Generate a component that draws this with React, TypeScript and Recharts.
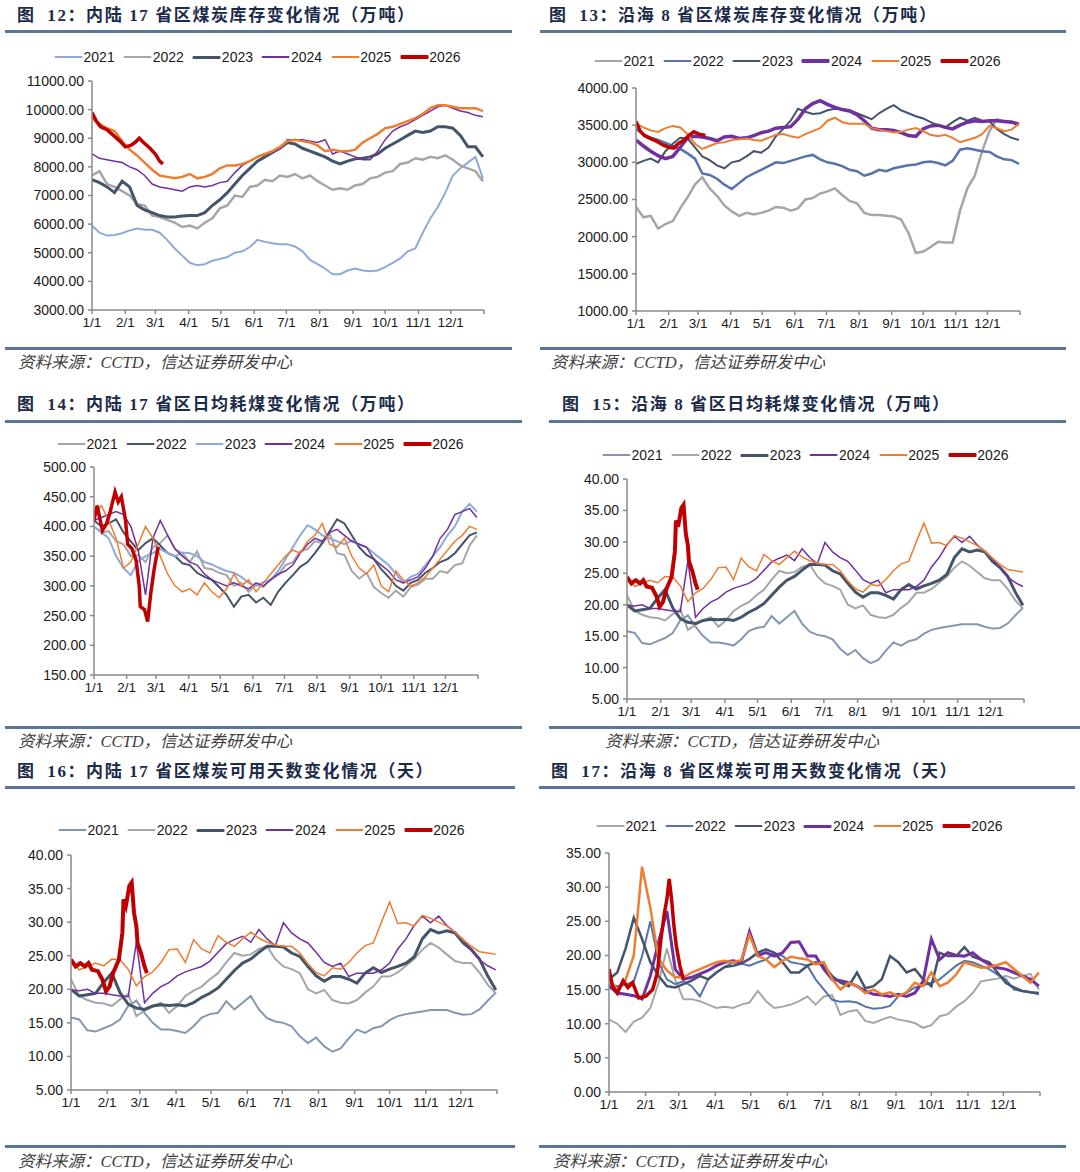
import React from "react";
import { LineChart, Line, XAxis, YAxis } from "recharts";

// x positions are day-of-year; weekly samples
const WEEKS = [0, 7, 14, 21, 28, 35, 42, 49, 56, 63, 70, 77, 84, 91, 98, 105, 112, 119, 126, 133, 140, 147, 154, 161, 168, 175, 182, 189, 196, 203, 210, 217, 224, 231, 238, 245, 252, 259, 266, 273, 280, 287, 294, 301, 308, 315, 322, 329, 336, 343, 350, 357, 364];
const MONTH_TICKS = [0, 31, 59, 90, 120, 151, 181, 212, 243, 273, 304, 334, 365];
const MONTH_LABELS = ["1/1", "2/1", "3/1", "4/1", "5/1", "6/1", "7/1", "8/1", "9/1", "10/1", "11/1", "12/1", ""];
const YEARS = ["2021", "2022", "2023", "2024", "2025", "2026"];

// 图12 内陆17省区煤炭库存
const INV_IN_2021 = [5950, 5700, 5600, 5620, 5680, 5780, 5850, 5800, 5800, 5700, 5450, 5150, 4900, 4650, 4560, 4600, 4720, 4780, 4850, 5000, 5050, 5200, 5450, 5380, 5330, 5300, 5300, 5220, 5050, 4750, 4600, 4450, 4250, 4250, 4380, 4450, 4380, 4350, 4380, 4500, 4650, 4800, 5050, 5150, 5700, 6200, 6600, 7100, 7700, 7950, 8150, 8350, 7600];
const INV_IN_2022 = [7700, 7850, 7400, 7300, 7150, 7000, 6700, 6650, 6300, 6250, 6150, 6050, 5900, 5950, 5850, 6050, 6200, 6550, 6650, 7000, 6950, 7300, 7350, 7550, 7500, 7700, 7650, 7750, 7600, 7700, 7500, 7350, 7200, 7250, 7200, 7350, 7400, 7600, 7650, 7800, 7850, 8100, 8150, 8300, 8250, 8350, 8300, 8400, 8250, 8050, 7950, 7850, 7500];
const INV_IN_2023 = [7550, 7450, 7300, 7100, 7500, 7300, 6650, 6500, 6400, 6300, 6250, 6250, 6280, 6300, 6300, 6400, 6650, 6850, 7100, 7400, 7700, 7950, 8200, 8350, 8500, 8650, 8850, 8800, 8650, 8550, 8450, 8350, 8200, 8100, 8200, 8280, 8300, 8350, 8450, 8650, 8800, 8950, 9100, 9250, 9200, 9250, 9400, 9400, 9350, 9100, 8700, 8700, 8350];
const INV_IN_2024 = [8450, 8300, 8250, 8200, 8150, 8000, 7900, 7700, 7400, 7300, 7250, 7200, 7150, 7300, 7350, 7300, 7350, 7450, 7500, 7800, 8050, 8200, 8350, 8450, 8500, 8650, 8950, 8950, 8950, 8900, 8850, 8950, 8450, 8550, 8450, 8350, 8250, 8250, 8550, 8950, 9250, 9400, 9500, 9650, 9800, 9950, 10100, 10150, 10050, 9950, 9900, 9800, 9750];
const INV_IN_2025 = [9700, 9500, 9350, 9250, 8900, 8600, 8400, 8150, 7900, 7700, 7650, 7600, 7650, 7750, 7600, 7650, 7750, 7950, 8050, 8050, 8100, 8200, 8350, 8450, 8550, 8700, 8900, 8950, 8900, 8850, 8750, 8550, 8600, 8550, 8550, 8600, 8850, 9000, 9150, 9350, 9400, 9500, 9600, 9700, 9850, 10050, 10150, 10150, 10100, 10050, 10050, 10050, 9950];
const INV_IN_2026_DAYS = [0, 4, 8, 14, 20, 26, 31, 36, 40, 44, 48, 54, 59, 63, 66];
const INV_IN_2026 = [9900, 9600, 9400, 9300, 9100, 8900, 8700, 8750, 8850, 9000, 8850, 8650, 8450, 8200, 8100];

// 图13 沿海8省区煤炭库存
const INV_CO_2021 = [2400, 2260, 2280, 2110, 2170, 2210, 2380, 2530, 2700, 2800, 2650, 2550, 2420, 2340, 2280, 2320, 2300, 2320, 2350, 2400, 2390, 2350, 2380, 2500, 2520, 2580, 2610, 2650, 2560, 2480, 2450, 2320, 2290, 2290, 2280, 2270, 2230, 2050, 1780, 1800, 1860, 1930, 1920, 1920, 2350, 2650, 2820, 3150, 3420, 3580, 3550, 3550, 3520];
const INV_CO_2022 = [3450, 3380, 3330, 3300, 3260, 3220, 3180, 3120, 3050, 2850, 2830, 2780, 2700, 2640, 2720, 2800, 2850, 2900, 2950, 3000, 2990, 3020, 3050, 3080, 3100, 3040, 3000, 2980, 2950, 2900, 2880, 2820, 2850, 2900, 2880, 2920, 2940, 2960, 2970, 3000, 3010, 2990, 2960, 3020, 3170, 3190, 3170, 3150, 3140, 3080, 3040, 3030, 2980];
const INV_CO_2023 = [2980, 3020, 3050, 3000, 3150, 3250, 3330, 3320, 3200, 3080, 3030, 2960, 2920, 3000, 3020, 3080, 3150, 3130, 3200, 3350, 3450, 3560, 3720, 3680, 3650, 3660, 3700, 3720, 3710, 3700, 3660, 3620, 3580, 3660, 3720, 3770, 3700, 3660, 3620, 3590, 3540, 3500, 3470, 3540, 3600, 3560, 3600, 3560, 3550, 3450, 3380, 3330, 3300];
const INV_CO_2024 = [3300, 3220, 3150, 3090, 3050, 3080, 3200, 3330, 3350, 3340, 3320, 3290, 3340, 3350, 3320, 3330, 3360, 3400, 3420, 3460, 3470, 3480, 3580, 3720, 3790, 3830, 3780, 3740, 3710, 3690, 3640, 3560, 3460, 3440, 3440, 3430, 3400, 3360, 3350, 3450, 3490, 3500, 3470, 3450, 3500, 3540, 3560, 3550, 3560, 3560, 3550, 3540, 3510];
const INV_CO_2025 = [3520, 3470, 3430, 3410, 3460, 3490, 3470, 3380, 3250, 3180, 3220, 3260, 3270, 3300, 3310, 3320, 3300, 3290, 3330, 3370, 3380, 3350, 3330, 3380, 3420, 3460, 3560, 3600, 3540, 3520, 3520, 3520, 3460, 3440, 3420, 3400, 3410, 3440, 3460, 3420, 3370, 3350, 3370, 3330, 3270, 3300, 3330, 3380, 3490, 3460, 3420, 3440, 3520];
const INV_CO_2026_DAYS = [0, 4, 8, 14, 20, 26, 32, 36, 40, 46, 50, 55, 60, 66];
const INV_CO_2026 = [3550, 3420, 3360, 3320, 3280, 3230, 3200, 3190, 3250, 3300, 3360, 3410, 3380, 3360];

// 图14 内陆17省区日均耗煤
const USE_IN_2021 = [400, 390, 392, 375, 370, 350, 352, 340, 365, 372, 385, 362, 355, 340, 358, 330, 328, 322, 318, 300, 305, 290, 302, 298, 312, 318, 335, 340, 358, 362, 375, 372, 388, 355, 352, 325, 312, 322, 298, 288, 280, 292, 282, 298, 302, 312, 312, 325, 322, 335, 338, 368, 385];
const USE_IN_2022 = [410, 400, 405, 412, 390, 375, 360, 372, 380, 368, 355, 350, 338, 335, 322, 315, 310, 298, 285, 265, 282, 285, 272, 280, 268, 290, 305, 318, 332, 340, 355, 372, 392, 412, 405, 385, 365, 352, 345, 328, 315, 300, 292, 305, 310, 322, 330, 340, 345, 355, 370, 385, 390];
const USE_IN_2023 = [400, 390, 380, 350, 330, 318, 342, 350, 355, 362, 355, 350, 356, 355, 350, 340, 336, 330, 325, 322, 315, 305, 300, 306, 310, 325, 345, 365, 385, 402, 395, 385, 380, 375, 370, 376, 370, 365, 355, 345, 335, 320, 305, 315, 320, 335, 350, 365, 385, 400, 425, 438, 425];
const USE_IN_2024 = [410, 415, 420, 425, 420, 400, 360, 285, 380, 410, 385, 362, 350, 340, 335, 320, 310, 305, 300, 305, 300, 295, 305, 300, 310, 320, 325, 335, 355, 370, 380, 375, 390, 395, 385, 375, 370, 365, 345, 335, 325, 310, 305, 310, 315, 330, 350, 380, 395, 420, 425, 430, 415];
const USE_IN_2025 = [420, 435, 410, 380, 330, 340, 370, 400, 380, 350, 320, 300, 290, 295, 285, 305, 290, 280, 295, 320, 300, 310, 290, 305, 320, 335, 350, 360, 355, 375, 385, 405, 370, 365, 380, 350, 330, 320, 335, 300, 290, 325, 310, 300, 305, 315, 330, 345, 360, 375, 385, 400, 395];
const USE_IN_2026_DAYS = [0, 3, 8, 12, 15, 20, 23, 26, 30, 32, 36, 40, 43, 44, 48, 51, 54, 57, 61];
const USE_IN_2026 = [410, 435, 393, 405, 422, 458, 441, 450, 410, 370, 363, 343, 300, 265, 260, 240, 288, 326, 366];

// 图15 / 图16 可用天数（两图数据相同）
const DAY_IN_2021 = [15.8, 15.5, 13.9, 13.7, 14.2, 14.7, 15.5, 17.5, 18.3, 16.5, 15.0, 14.0, 14.0, 13.8, 13.5, 14.5, 15.8, 16.3, 16.5, 18.2, 17.0, 18.0, 19.0, 17.0, 15.7, 15.2, 15.0, 14.5, 13.0, 12.0, 12.8, 11.5, 10.7, 11.2, 12.7, 14.0, 13.5, 14.2, 14.5, 15.4, 16.0, 16.3, 16.5, 16.7, 16.9, 16.9, 16.9, 16.5, 16.2, 16.3, 17.0, 18.3, 19.5];
const DAY_IN_2022 = [21.5, 19.0, 18.4, 18.0, 17.9, 17.5, 18.5, 19.3, 16.0, 16.8, 17.5, 18.0, 16.5, 17.5, 19.0, 19.8, 20.4, 21.5, 22.4, 24.0, 25.4, 25.0, 25.2, 26.0, 26.4, 24.5, 23.4, 23.0, 22.4, 20.0, 19.4, 19.9, 18.4, 18.0, 17.9, 18.4, 19.5, 20.4, 21.9, 21.9, 22.5, 23.5, 24.5, 25.9, 26.9, 26.2, 25.2, 24.2, 23.9, 23.9, 22.5, 20.7, 19.4];
const DAY_IN_2023 = [20.0, 19.0, 19.2, 19.4, 21.0, 22.4, 19.5, 17.8, 17.2, 17.0, 17.5, 17.7, 17.6, 17.7, 17.5, 18.0, 18.8, 19.4, 20.2, 21.5, 22.8, 23.9, 24.5, 25.5, 26.4, 26.4, 26.3, 25.4, 24.9, 23.4, 22.0, 21.2, 21.9, 21.9, 21.5, 20.9, 22.4, 23.2, 22.5, 23.0, 23.4, 23.9, 24.8, 27.5, 28.9, 28.4, 28.7, 28.4, 26.9, 25.9, 24.5, 22.0, 19.9];
const DAY_IN_2024 = [19.9, 19.8, 20.0, 19.4, 19.4, 19.2, 19.0, 18.9, 27.0, 18.0, 19.4, 20.4, 21.0, 22.0, 22.6, 23.0, 23.4, 24.2, 25.5, 26.8, 27.4, 27.9, 27.0, 28.9, 27.5, 26.5, 29.9, 28.4, 27.5, 26.9, 25.5, 24.0, 23.4, 23.9, 21.9, 22.4, 22.4, 22.4, 22.9, 23.9, 26.0, 27.5, 29.5, 30.9, 29.9, 30.9, 29.5, 28.5, 27.4, 25.9, 24.4, 23.5, 22.9];
const DAY_IN_2025 = [24.4, 22.9, 23.4, 23.9, 23.5, 24.5, 24.4, 23.0, 20.5, 21.9, 22.6, 24.0, 25.9, 26.0, 24.0, 27.4, 26.0, 25.4, 28.0, 27.0, 26.4, 27.5, 28.5, 27.6, 27.0, 26.6, 26.4, 26.4, 25.4, 23.8, 22.5, 22.0, 23.2, 23.0, 24.0, 25.4, 26.5, 26.9, 30.0, 33.0, 29.8, 29.9, 29.4, 31.0, 30.6, 30.0, 29.4, 28.5, 27.4, 26.4, 25.6, 25.4, 25.2];
const DAY_IN_2026_DAYS = [0, 4, 8, 12, 15, 18, 23, 27, 30, 33, 36, 41, 44, 45, 47, 50, 52, 54, 56, 57, 60, 63, 65];
const DAY_IN_2026 = [24.4, 23.4, 23.9, 23.4, 23.9, 22.9, 22.7, 21.4, 19.7, 20.4, 22.4, 24.4, 28.4, 33.4, 32.4, 35.4, 35.9, 31.4, 29.4, 26.9, 25.4, 23.4, 22.4];

// 图17 沿海8省区可用天数
const DAY_CO_2021 = [10.6, 10.0, 8.8, 10.3, 10.9, 12.3, 16.0, 21.0, 16.5, 13.6, 13.6, 13.3, 12.8, 12.3, 12.5, 12.3, 12.8, 13.1, 14.8, 13.3, 12.3, 12.5, 12.8, 13.3, 14.0, 12.8, 14.0, 14.2, 11.3, 11.8, 12.0, 10.4, 10.1, 10.6, 11.0, 10.6, 10.4, 10.1, 9.4, 9.8, 11.1, 11.4, 12.5, 13.3, 14.5, 16.2, 16.4, 16.6, 17.0, 16.6, 17.0, 17.3, 15.0];
const DAY_CO_2022 = [15.8, 15.5, 15.7, 16.2, 19.9, 25.0, 19.0, 16.5, 15.8, 16.2, 15.5, 14.0, 16.5, 17.5, 18.3, 19.0, 18.8, 18.5, 19.0, 19.4, 20.4, 19.9, 19.0, 18.8, 18.5, 16.5, 15.0, 13.5, 13.2, 13.3, 13.1, 12.5, 12.2, 12.3, 12.6, 14.0, 14.5, 15.3, 15.6, 16.0, 16.5, 17.5, 18.5, 19.2, 19.0, 18.5, 18.0, 17.2, 16.5, 15.0, 14.8, 14.6, 14.3];
const DAY_CO_2023 = [16.5, 17.5, 21.0, 25.5, 22.4, 19.0, 17.0, 15.5, 15.3, 15.8, 16.3, 17.0, 16.5, 17.5, 18.3, 18.5, 18.8, 19.5, 20.4, 20.9, 20.4, 19.0, 17.5, 17.5, 18.5, 19.0, 18.5, 17.0, 16.0, 15.5, 17.5, 15.2, 15.5, 16.5, 19.9, 19.0, 17.5, 18.0, 16.5, 15.5, 20.4, 19.9, 19.9, 21.2, 19.8, 19.4, 19.0, 17.5, 16.0, 15.3, 14.8, 14.6, 14.5];
const DAY_CO_2024 = [15.5, 14.5, 14.3, 14.1, 13.6, 17.0, 22.0, 26.5, 18.0, 16.5, 16.8, 17.3, 17.8, 18.5, 19.0, 19.2, 19.0, 23.5, 20.0, 20.4, 19.9, 20.4, 21.9, 22.0, 19.9, 19.9, 18.0, 16.5, 16.3, 16.0, 15.5, 14.8, 14.3, 14.2, 14.0, 14.3, 14.0, 14.5, 16.2, 22.4, 19.4, 20.4, 20.0, 19.9, 20.4, 19.4, 18.7, 18.2, 18.0, 17.5, 17.0, 16.5, 15.5];
const DAY_CO_2025 = [16.5, 15.0, 16.4, 20.0, 33.0, 27.0, 19.5, 17.8, 16.8, 16.8, 17.5, 18.0, 18.5, 19.0, 19.2, 19.0, 19.3, 23.0, 19.9, 19.4, 18.3, 19.2, 19.8, 19.6, 19.4, 18.7, 19.0, 16.5, 15.0, 16.0, 15.5, 14.5, 15.0, 14.3, 14.6, 14.0, 14.6, 16.0, 15.5, 17.5, 15.5, 16.0, 17.2, 19.0, 18.6, 18.2, 18.3, 18.6, 19.0, 18.0, 17.0, 16.0, 17.5];
const DAY_CO_2026_DAYS = [0, 3, 7, 12, 16, 20, 25, 31, 37, 41, 44, 47, 49, 51, 53, 55, 57, 60, 63];
const DAY_CO_2026 = [18.0, 15.5, 14.5, 16.3, 15.3, 16.0, 13.8, 14.0, 15.0, 17.5, 22.4, 26.3, 28.2, 31.2, 28.2, 24.3, 21.4, 18.5, 16.5];

const C = {
  lightBlue: "#8eaadb",
  gray: "#a6a6a6",
  slate: "#44546a",
  purple: "#7030a0",
  orange: "#ed7d31",
  red: "#c00000",
  steel: "#5673ad",
  blueGray: "#8497b0",
};

type Series = { name: string; color: string; w: number; days: number[]; vals: number[] };

const mk = (i: number, color: string, w: number, vals: number[], days: number[] = WEEKS): Series => ({
  name: YEARS[i],
  color,
  w,
  days,
  vals,
});

const S12 = [
  mk(0, C.lightBlue, 2, INV_IN_2021),
  mk(1, C.gray, 2.5, INV_IN_2022),
  mk(2, C.slate, 3, INV_IN_2023),
  mk(3, C.purple, 1.5, INV_IN_2024),
  mk(4, C.orange, 2.5, INV_IN_2025),
  mk(5, C.red, 3.5, INV_IN_2026, INV_IN_2026_DAYS),
];
const S13 = [
  mk(0, C.gray, 2.5, INV_CO_2021),
  mk(1, C.steel, 2.5, INV_CO_2022),
  mk(2, C.slate, 2, INV_CO_2023),
  mk(3, C.purple, 3.5, INV_CO_2024),
  mk(4, C.orange, 2, INV_CO_2025),
  mk(5, C.red, 3.5, INV_CO_2026, INV_CO_2026_DAYS),
];
const S14 = [
  mk(0, C.gray, 2, USE_IN_2021),
  mk(1, C.slate, 2, USE_IN_2022),
  mk(2, C.lightBlue, 2, USE_IN_2023),
  mk(3, C.purple, 1.5, USE_IN_2024),
  mk(4, C.orange, 1.5, USE_IN_2025),
  mk(5, C.red, 3.5, USE_IN_2026, USE_IN_2026_DAYS),
];
const S15 = [
  mk(0, C.blueGray, 2, DAY_IN_2021),
  mk(1, C.gray, 2, DAY_IN_2022),
  mk(2, C.slate, 3, DAY_IN_2023),
  mk(3, C.purple, 1.5, DAY_IN_2024),
  mk(4, C.orange, 1.5, DAY_IN_2025),
  mk(5, C.red, 4, DAY_IN_2026, DAY_IN_2026_DAYS),
];
const S17 = [
  mk(0, C.gray, 2, DAY_CO_2021),
  mk(1, C.steel, 2, DAY_CO_2022),
  mk(2, C.slate, 2.5, DAY_CO_2023),
  mk(3, C.purple, 3, DAY_CO_2024),
  mk(4, C.orange, 2.5, DAY_CO_2025),
  mk(5, C.red, 3.5, DAY_CO_2026, DAY_CO_2026_DAYS),
];

const AX = "#8a8a8a";
const RULE = "#5b7699";
const SANS = '"Liberation Sans", Arial, "Noto Sans CJK SC", sans-serif';
const SERIF = '"Liberation Serif", "Times New Roman", "Noto Sans CJK SC", serif';

type Box = { x: number; y: number; w: number; h: number };

function Legend({ cx, cy, series }: { cx: number; cy: number; series: Series[] }) {
  return (
    <div
      style={{
        position: "absolute",
        left: cx,
        top: cy,
        transform: "translate(-50%, -50%)",
        display: "flex",
        alignItems: "center",
        whiteSpace: "nowrap",
        fontFamily: SANS,
        fontSize: 14,
        color: "#1a1a1a",
      }}
    >
      {series.map((s) => (
        <div key={s.name} style={{ display: "flex", alignItems: "center", marginRight: 9 }}>
          <div style={{ width: 28, height: Math.max(2, s.w), background: s.color, borderRadius: 1 }} />
          <span style={{ marginLeft: 1 }}>{s.name}</span>
        </div>
      ))}
    </div>
  );
}

function Chart({ box, domain, ticks, series }: { box: Box; domain: [number, number]; ticks: number[]; series: Series[] }) {
  const yw = 90;
  return (
    <div style={{ position: "absolute", left: box.x - yw, top: box.y - 10 }}>
      <LineChart width={yw + box.w + 12} height={box.h + 42} margin={{ top: 10, right: 12, bottom: 0, left: 0 }}>
        <XAxis
          type="number"
          dataKey="d"
          domain={[0, 365]}
          ticks={MONTH_TICKS}
          interval={0}
          allowDataOverflow
          tickFormatter={(v: number) => MONTH_LABELS[MONTH_TICKS.indexOf(v)] ?? ""}
          axisLine={{ stroke: AX, strokeWidth: 1.5 }}
          tickLine={{ stroke: AX, strokeWidth: 1.5 }}
          tickSize={4}
          tickMargin={3}
          height={32}
          tick={{ fontSize: 13.5, fill: "#1a1a1a", fontFamily: SANS }}
        />
        <YAxis
          type="number"
          domain={domain}
          ticks={ticks}
          interval={0}
          allowDataOverflow
          width={yw}
          tickFormatter={(v: number) => v.toFixed(2)}
          axisLine={{ stroke: AX, strokeWidth: 1.5 }}
          tickLine={{ stroke: AX, strokeWidth: 1.5 }}
          tickSize={4}
          tickMargin={4}
          tick={{ fontSize: 14, fill: "#1a1a1a", fontFamily: SANS }}
        />
        {series.map((s) => (
          <Line
            key={s.name}
            data={s.days.map((d, i) => ({ d, v: s.vals[i] }))}
            dataKey="v"
            type="linear"
            stroke={s.color}
            strokeWidth={s.w}
            dot={false}
            activeDot={false}
            isAnimationActive={false}
          />
        ))}
      </LineChart>
    </div>
  );
}

function Rule({ x1, x2, y }: { x1: number; x2: number; y: number }) {
  return <div style={{ position: "absolute", left: x1, top: y - 1.5, width: x2 - x1, height: 3, background: RULE }} />;
}

function Title({ x, y, text }: { x: number; y: number; text: string }) {
  return (
    <div
      style={{
        position: "absolute",
        left: x,
        top: y,
        transform: "translateY(-50%)",
        whiteSpace: "pre",
        fontFamily: SERIF,
        fontWeight: "bold",
        fontSize: 17,
        letterSpacing: 1.6,
        color: "#1c2b4a",
      }}
    >
      {text}
    </div>
  );
}

function Source({ x, y }: { x: number; y: number }) {
  return (
    <div
      style={{
        position: "absolute",
        left: x,
        top: y,
        transform: "translateY(-50%)",
        whiteSpace: "nowrap",
        fontFamily: SERIF,
        fontStyle: "italic",
        fontSize: 16.5,
        color: "#404040",
      }}
    >
      资料来源：CCTD，信达证券研发中心
    </div>
  );
}

const T_INV = [3000, 4000, 5000, 6000, 7000, 8000, 9000, 10000, 11000];
const T_INV_CO = [1000, 1500, 2000, 2500, 3000, 3500, 4000];
const T_USE = [150, 200, 250, 300, 350, 400, 450, 500];
const T_DAY_IN = [5, 10, 15, 20, 25, 30, 35, 40];
const T_DAY_CO = [0, 5, 10, 15, 20, 25, 30, 35];

export default function App() {
  return (
    <div style={{ position: "absolute", left: 0, top: 0, width: 1080, height: 1172, background: "#fff", overflow: "hidden" }}>
      {/* row 1 */}
      <Title x={17} y={13} text="图  12：内陆 17 省区煤炭库存变化情况（万吨）" />
      <Rule x1={5} x2={512} y={31} />
      <Legend cx={262} cy={57} series={S12} />
      <Chart box={{ x: 92, y: 81, w: 392, h: 229 }} domain={[3000, 11000]} ticks={T_INV} series={S12} />
      <Rule x1={5} x2={512} y={348} />
      <Source x={18} y={361} />

      <Title x={549} y={13} text="图  13：沿海 8 省区煤炭库存变化情况（万吨）" />
      <Rule x1={540} x2={1066} y={31} />
      <Legend cx={802} cy={61} series={S13} />
      <Chart box={{ x: 636, y: 88, w: 384, h: 223 }} domain={[1000, 4000]} ticks={T_INV_CO} series={S13} />
      <Rule x1={540} x2={1066} y={348} />
      <Source x={551} y={361} />

      {/* row 2 */}
      <Title x={17} y={402} text="图  14：内陆 17 省区日均耗煤变化情况（万吨）" />
      <Rule x1={5} x2={522} y={421} />
      <Legend cx={265} cy={444} series={S14} />
      <Chart box={{ x: 94, y: 467, w: 384, h: 208 }} domain={[150, 500]} ticks={T_USE} series={S14} />
      <Rule x1={5} x2={522} y={727} />
      <Source x={18} y={740} />

      <Title x={562} y={402} text="图  15：沿海 8 省区日均耗煤变化情况（万吨）" />
      <Rule x1={549} x2={1066} y={421} />
      <Legend cx={810} cy={455} series={S15} />
      <Chart box={{ x: 627, y: 479, w: 397, h: 220 }} domain={[5, 40]} ticks={T_DAY_IN} series={S15} />
      <Rule x1={549} x2={1080} y={727} />
      <Source x={605} y={740} />

      {/* row 3 */}
      <Title x={17} y={769} text="图  16：内陆 17 省区煤炭可用天数变化情况（天）" />
      <Rule x1={5} x2={515} y={787} />
      <Legend cx={266} cy={830} series={S15} />
      <Chart box={{ x: 71, y: 855, w: 426, h: 235 }} domain={[5, 40]} ticks={T_DAY_IN} series={S15} />
      <Rule x1={5} x2={515} y={1146} />
      <Source x={18} y={1160} />

      <Title x={551} y={769} text="图  17：沿海 8 省区煤炭可用天数变化情况（天）" />
      <Rule x1={539} x2={1075} y={787} />
      <Legend cx={804} cy={826} series={S17} />
      <Chart box={{ x: 609, y: 853, w: 431, h: 239 }} domain={[0, 35]} ticks={T_DAY_CO} series={S17} />
      <Rule x1={539} x2={1066} y={1146} />
      <Source x={553} y={1160} />
    </div>
  );
}
